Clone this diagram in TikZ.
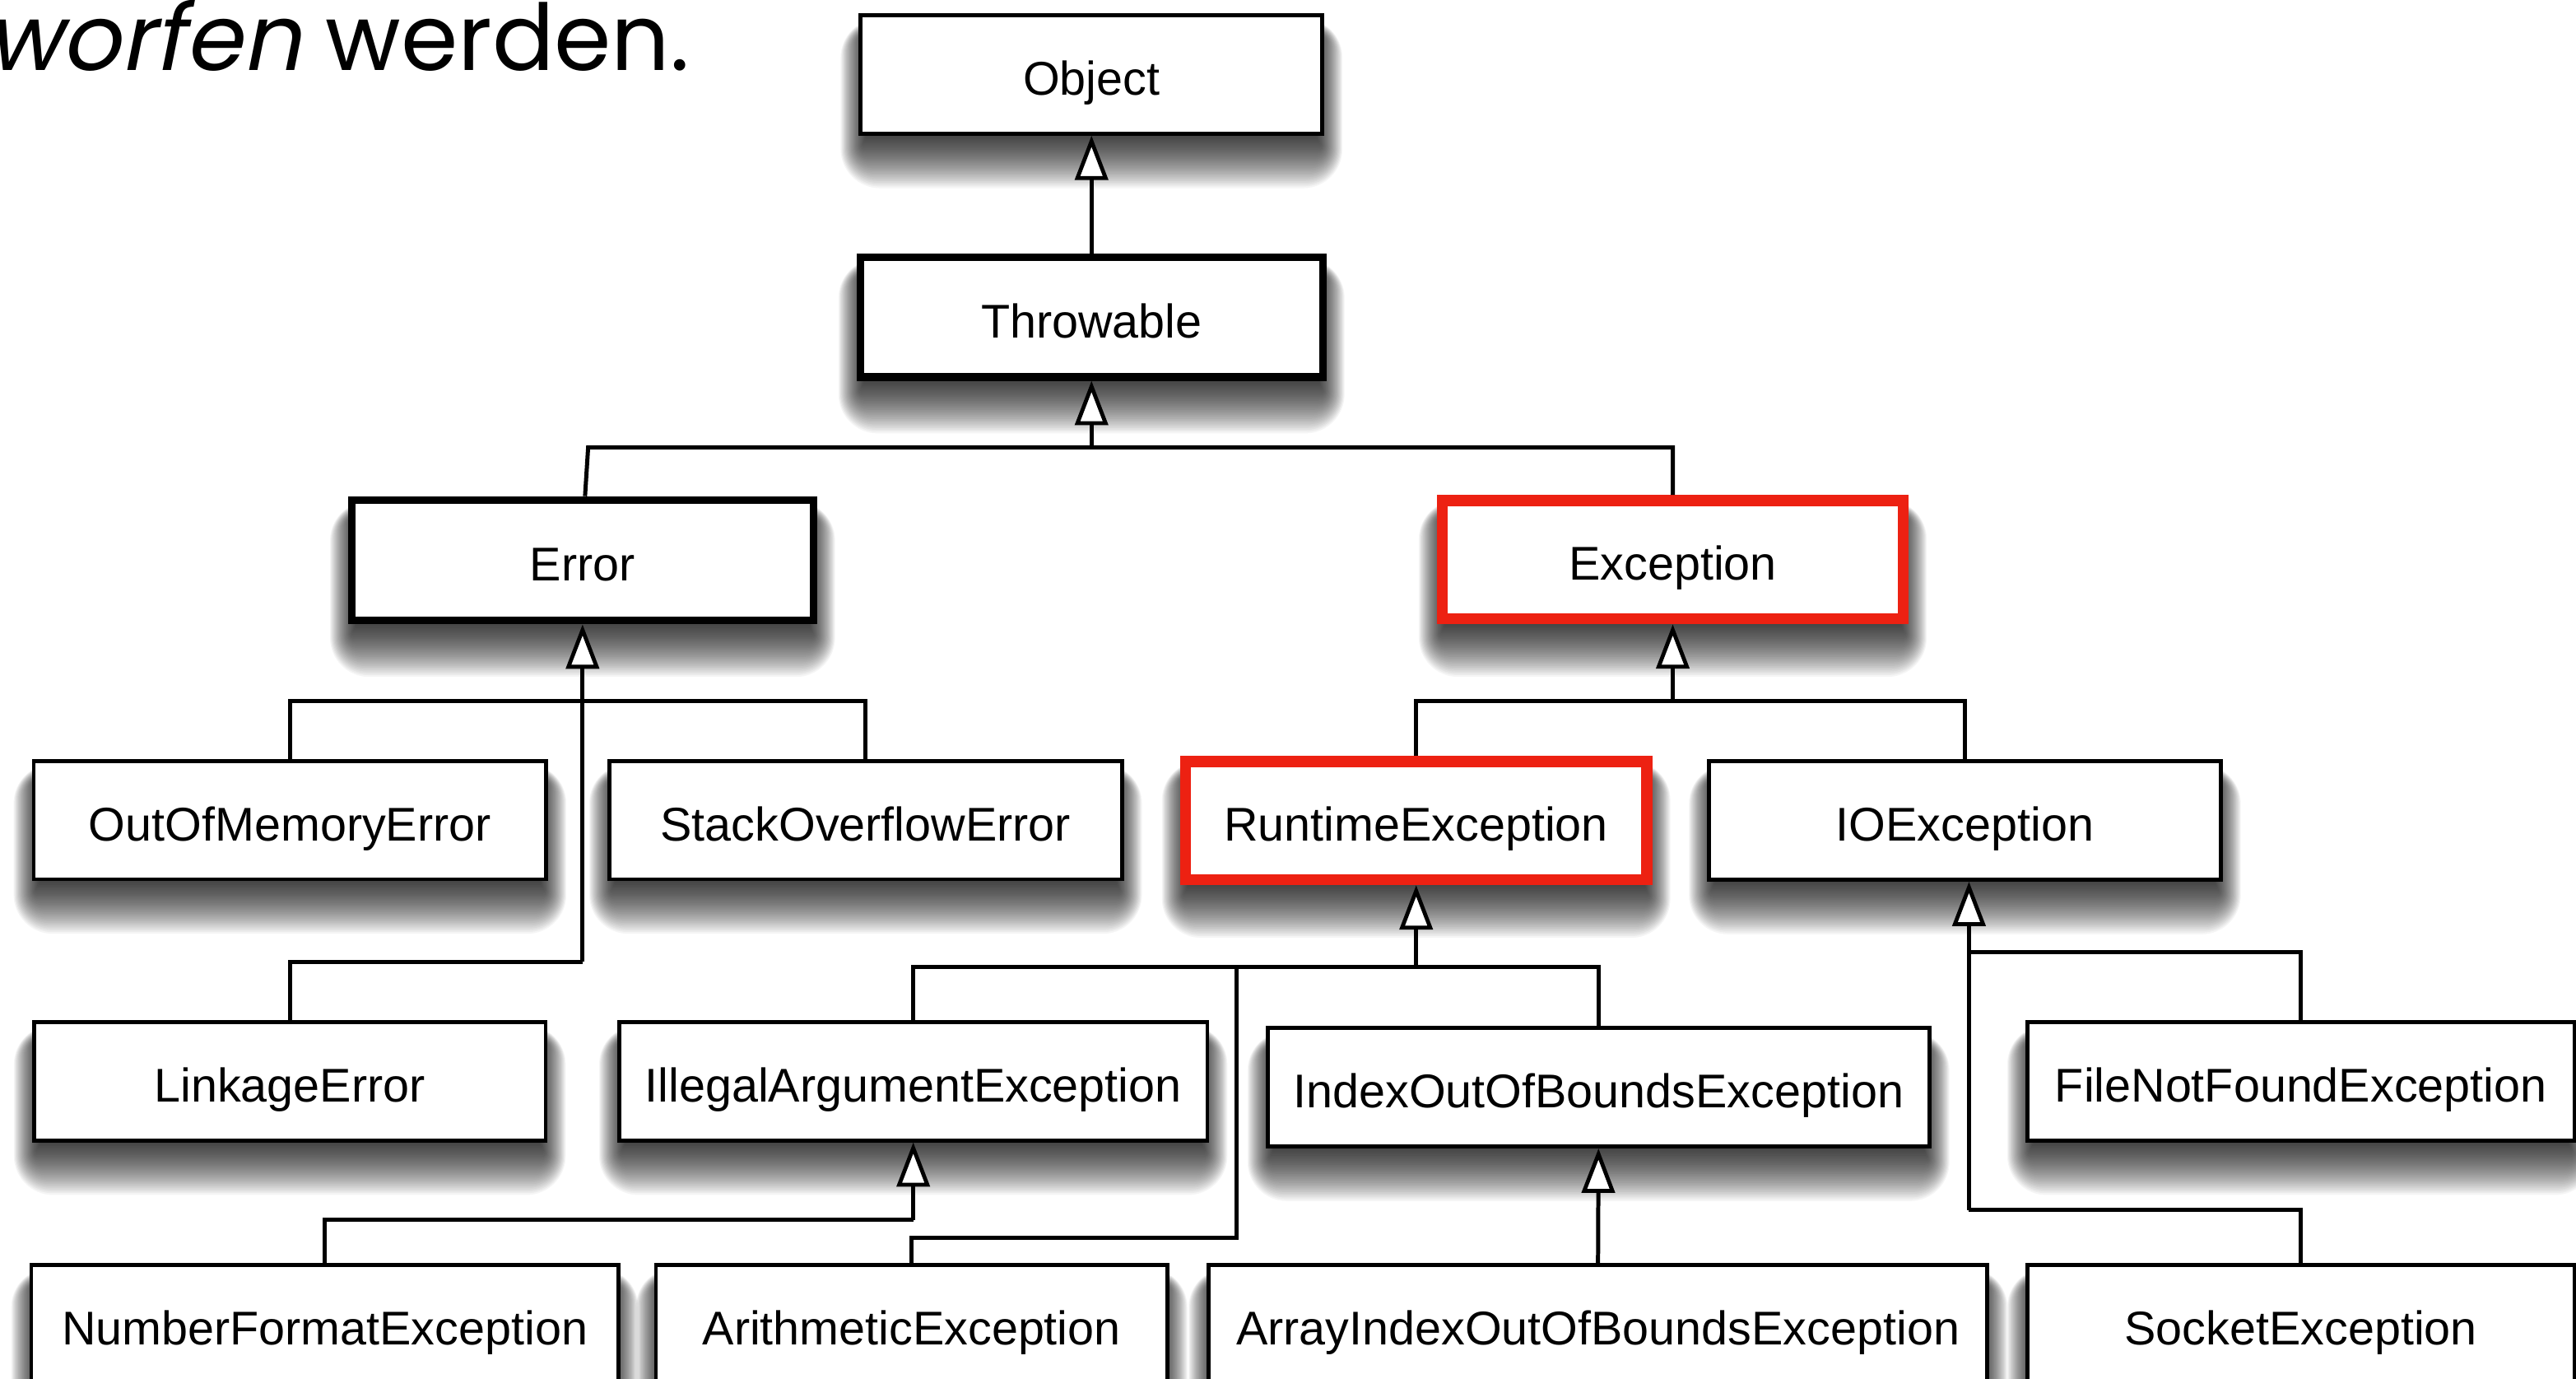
\documentclass[tikz,border=0pt]{standalone}
\usepackage{fontspec}
\usetikzlibrary{arrows.meta,calc,backgrounds}
\newfontfamily\boxfont{Liberation Sans}
\newfontfamily\headfont{Poppins}
\newfontfamily\headitfont[FakeSlant=0.2]{Poppins}
\definecolor{jred}{RGB}{237,33,18}
\tikzset{
  box/.style={draw=black, line width=2.4pt, fill=white, inner sep=0pt,
    text height=25pt, text depth=0pt, minimum height=72pt,
    font={\boxfont\fontsize{28.8}{30}\selectfont}},
  thickbox/.style={box, line width=4.6pt},
  redbox/.style={box, draw=jred, line width=6.7pt},
  conn/.style={draw=black, line width=2.5pt, line join=miter},
  inh/.style={conn, -{Triangle[length=27pt, width=20pt, fill=white, line width=2.4pt]}},
  shadowlayer/.style={fill=black, opacity=0.038}
}
\newcommand\mkshadow[1]{%
  \foreach \k in {0,...,29}{%
    \pgfmathsetmacro\ee{-10+32*\k/29}%
    \pgfmathsetmacro\rr{max(0.5,0.9*\ee+4)}%
    \fill[shadowlayer, rounded corners=\rr pt] ($(#1.north west)+(-0.5*\ee,12-0.4*\ee)$) rectangle ($(#1.south east)+(0.5*\ee,10+\ee)$);
  }%
}
\begin{document}
\begin{tikzpicture}[x=1pt, y=-1pt]
\useasboundingbox (0,0) rectangle (1568,839);

\node[anchor=base east, inner sep=0pt, font={\fontsize{56}{60}\selectfont}] (head) at (420,42.6)
  {\headitfont worfen\headfont\ werden.};

% boxes
\node[box, minimum width=281pt] (Object) at (664.4,45.3) {Object};
\node[thickbox, minimum width=281.4pt, minimum height=72.8pt] (Throwable) at (664.4,193) {Throwable};
\node[thickbox, minimum width=280.8pt, minimum height=73.4pt] (Error) at (354.6,340.9) {Error};
\node[redbox, minimum width=280.5pt] (Exception) at (1018.2,340.5) {Exception};
\node[box, minimum width=312pt] (OutOfMemoryError) at (176.5,499) {OutOfMemoryError};
\node[box, minimum width=312pt] (StackOverflowError) at (526.9,499) {StackOverflowError};
\node[redbox, minimum width=280.8pt] (RuntimeException) at (862,499.3) {RuntimeException};
\node[box, minimum width=311.5pt] (IOException) at (1196,499.3) {IOException};
\node[box, minimum width=311.5pt] (LinkageError) at (176.4,657.9) {LinkageError};
\node[box, minimum width=358pt] (IllegalArgumentException) at (555.9,657.9) {IllegalArgumentException};
\node[box, minimum width=402.8pt] (IndexOutOfBoundsException) at (973,661.6) {IndexOutOfBoundsException};
\node[box, minimum width=333pt] (FileNotFoundException) at (1400.5,657.9) {FileNotFoundException};
\node[box, minimum width=357.3pt] (NumberFormatException) at (197.7,805.7) {NumberFormatException};
\node[box, minimum width=311.3pt] (ArithmeticException) at (554.9,805.7) {ArithmeticException};
\node[box, minimum width=474pt] (ArrayIndexOutOfBoundsException) at (972.7,805.7) {ArrayIndexOutOfBoundsException};
\node[box, minimum width=333pt] (SocketException) at (1400.5,805.7) {SocketException};

% soft drop shadows behind the boxes
\begin{pgfonlayer}{background}
\fill[white] (0,0) rectangle (1568,839);
\foreach \n in {Object,Throwable,Error,Exception,OutOfMemoryError,StackOverflowError,
  RuntimeException,IOException,LinkageError,IllegalArgumentException,
  IndexOutOfBoundsException,FileNotFoundException,NumberFormatException,
  ArithmeticException,ArrayIndexOutOfBoundsException,SocketException}{\mkshadow{\n}}
\end{pgfonlayer}

% junction coordinates
\coordinate (tJ) at (Throwable.south |- 0,272.2);
\coordinate (tL) at (358,272.2);
\coordinate (tR) at (Exception.north |- 0,272.2);
\coordinate (eJ) at (Error.south |- 0,426.4);
\coordinate (eL) at (Error.south |- 0,585.3);
\coordinate (xJ) at (Exception.south |- 0,426.4);
\coordinate (rJ) at (RuntimeException.south |- 0,588.6);
\coordinate (rA) at (752.9,588.6);
\coordinate (rB) at (752.9,753.4);
\coordinate (iJ) at (IllegalArgumentException.south |- 0,742.2);
\coordinate (oA) at (1198.5,579.2);
\coordinate (oB) at (1198.5,736.3);

% connectors
\draw[inh] (Throwable.north) -- (Object.south);
\draw[inh] (tJ) -- (Throwable.south);
\draw[conn] ($(Error.north)+(1.5,0)$) -- (tL) -- (tR) -- (Exception.north);

\draw[inh] (eL) -- (Error.south);
\draw[conn] (OutOfMemoryError.north) |- (eJ) -| (StackOverflowError.north);
\draw[conn] (LinkageError.north) |- (eL);

\draw[inh] (xJ) -- (Exception.south);
\draw[conn] (RuntimeException.north) |- (xJ) -| (IOException.north);

\draw[inh] (rJ) -- (RuntimeException.south);
\draw[conn] (IllegalArgumentException.north) |- (rJ) -| (IndexOutOfBoundsException.north);
\draw[conn] (ArithmeticException.north) |- (rB) -- (rA);

\draw[inh] (iJ) -- (IllegalArgumentException.south);
\draw[conn] (NumberFormatException.north) |- (iJ);

\draw[inh] (ArrayIndexOutOfBoundsException.north) -- (IndexOutOfBoundsException.south);

\draw[inh] (oB) -- (oB |- IOException.south);
\draw[conn] (FileNotFoundException.north) |- (oA);
\draw[conn] (SocketException.north) |- (oB);
\end{tikzpicture}
\end{document}
